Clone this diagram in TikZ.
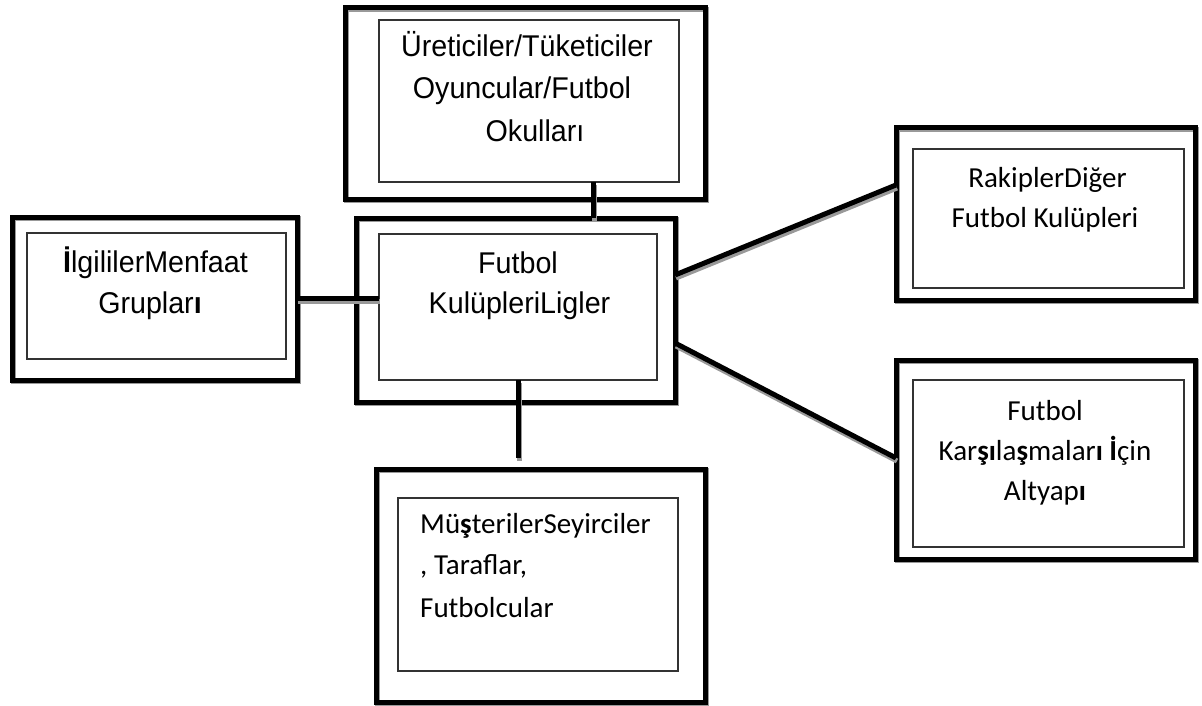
\documentclass[tikz,border=0pt]{standalone}
\usepackage{fontspec}
\usetikzlibrary{calc}
\newfontfamily\narrowsans[FakeStretch=0.955]{Liberation Sans}
\newfontfamily\carlito{Carlito}
\newcommand\bd[1]{{\bfseries #1}}
\begin{document}
\begin{tikzpicture}[x=1pt,y=-1pt,
  outerbox/.style={draw=black, line width=5pt, inner sep=0pt, outer sep=0pt,
    preaction={draw=black!40, line width=5pt, transform canvas={shift={(1.5pt,-1.5pt)}}}},
  innerbox/.style={draw=black!80, line width=1.3pt, inner sep=0pt, outer sep=0pt},
  lbl/.style={anchor=base, inner sep=0pt, font=\narrowsans\fontsize{30}{36}\selectfont},
  lblc/.style={anchor=base, inner sep=0pt, font=\carlito\fontsize{29}{35}\selectfont},
  link/.style={line width=5pt, black},
  linkshade/.style={line width=5pt, black!40, transform canvas={shift={(1pt,-3pt)}}}
]
\useasboundingbox (0,0) rectangle (1202,706);

% outer frames
\node[outerbox, minimum width=360pt, minimum height=191pt] (prod) at (525,103.5) {};
\node[outerbox, minimum width=285pt, minimum height=163pt] (grp)  at (154.5,298.5) {};
\node[outerbox, minimum width=319pt, minimum height=184pt] (club) at (515.5,310) {};
\node[outerbox, minimum width=299pt, minimum height=172pt] (rak)  at (1045.5,214) {};
\node[outerbox, minimum width=299pt, minimum height=199pt] (alt)  at (1045.5,459.5) {};
\node[outerbox, minimum width=329pt, minimum height=233pt] (cust) at (540.5,585.5) {};

% inner frames
\node[innerbox, minimum width=300pt, minimum height=162pt] (prodin) at (529,101) {};
\node[innerbox, minimum width=259pt, minimum height=126pt] (grpin)  at (156.5,296) {};
\node[innerbox, minimum width=278pt, minimum height=146pt] (clubin) at (518,307) {};
\node[innerbox, minimum width=271pt, minimum height=139pt] (rakin)  at (1048.5,218.5) {};
\node[innerbox, minimum width=271pt, minimum height=167pt] (altin)  at (1048.5,463.5) {};
\node[innerbox, minimum width=280pt, minimum height=173pt] (custin) at (538,584.5) {};

% labels
\node[lbl] (prod1) at (527,57)  {Üreticiler/Tüketiciler};
\node[lbl] (prod2) at (522,99)  {Oyuncular/Futbol};
\node[lbl] (prod3) at (535,142) {Okulları};

\node[lbl] (grp1) at (155.5,272) {\bd{İ}lgililerMenfaat};
\node[lbl] (grp2) at (150,313)   {Gruplar\bd{ı}};

\node[lbl] (club1) at (518,273)   {Futbol};
\node[lbl] (club2) at (519.5,313) {KulüpleriLigler};

\node[lblc] (rak1) at (1047.5,187) {RakiplerDiğer};
\node[lblc] (rak2) at (1045,227)   {Futbol Kulüpleri};

\node[lblc] (alt1) at (1045,420) {Futbol};
\node[lblc] (alt2) at (1045,460) {Kar\bd{ş}\bd{ı}la\bd{ş}malar\bd{ı} \bd{İ}çin};
\node[lblc] (alt3) at (1045,500) {Altyap\bd{ı}};

\node[lblc, anchor=base west] (cust1) at (420,533) {Mü\bd{ş}terilerSeyirciler};
\node[lblc, anchor=base west] (cust2) at (420,574) {, Taraflar,};
\node[lblc, anchor=base west] (cust3) at (420,617) {Futbolcular};

% connector end points
\coordinate (ptap) at ($(prodin.south)+(64,0)$);
\coordinate (ctail) at (518,458);
\coordinate (rakfrom) at ($(club.east)+(0,-35)$);
\coordinate (rakto) at ($(rak.west)+(0,-29)$);
\coordinate (altfrom) at ($(club.east)+(0,33)$);
\coordinate (altto) at ($(alt.west)+(0,-1.5)$);

% connector shading
\draw[linkshade] (ptap) -- (ptap |- club.north);
\draw[linkshade] (grp.east) -- (grp.east -| clubin.west);
\draw[linkshade] (clubin.south) -- (ctail);
\draw[linkshade] (rakfrom) -- (rakto);
\draw[linkshade] (altfrom) -- (altto);

% connectors
\draw[link] (ptap) -- (ptap |- club.north);
\draw[link] (grp.east) -- (grp.east -| clubin.west);
\draw[link] (clubin.south) -- (ctail);
\draw[link] (rakfrom) -- (rakto);
\draw[link] (altfrom) -- (altto);
\end{tikzpicture}
\end{document}
